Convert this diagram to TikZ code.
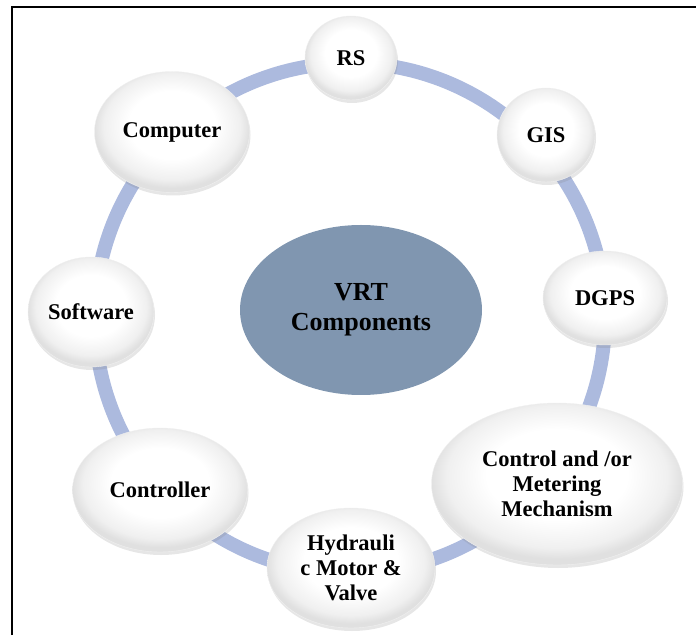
\documentclass[tikz,border=0pt]{standalone}
\usepackage{fontspec}
\setmainfont{Liberation Serif}
\usetikzlibrary{shapes}
\usetikzlibrary{shadows}

\definecolor{ringBlue}{RGB}{172,186,222}
\definecolor{hubBlue}{RGB}{128,150,176}

\pgfdeclareradialshading{partglow}{\pgfpoint{0bp}{4bp}}{%
  color(0bp)=(white); color(14bp)=(white); color(22bp)=(black!6);
  color(25bp)=(black!12); color(50bp)=(black!12)}

\tikzset{
  part/.style={ellipse, inner sep=0pt, align=center,
    font=\bfseries\fontsize{22.5}{25}\selectfont,
    shading=partglow, draw=black!6, line width=0.4pt,
    drop shadow={shadow xshift=1pt, shadow yshift=-3pt, opacity=0.2}},
  hub/.style={ellipse, inner sep=0pt, align=center, fill=hubBlue,
    font=\bfseries\fontsize{26}{30}\selectfont},
  ring/.style={draw=ringBlue, line width=14pt}
}

\begin{document}
\begin{tikzpicture}[x=1pt,y=1pt]
 			\useasboundingbox (0,0) rectangle (696,635);
 			% Frame
 			\draw[line width=2pt] (12,0) -- (12,628) -- (696,628);
 			%% Ring behind the parts
 			\coordinate (ringCentre) at (350,317);
 			\draw[ring] (ringCentre) circle (255pt);
 			\path (361,325) node(nodeVRT) [hub, minimum width=242pt, minimum height=170pt]
 				{VRT\\Components};
 			% Parts round the ring
 			\path (351,577) node(nodeRS)       [part, minimum width=92pt, minimum height=84pt] {RS};
 			\path (546,500) node(nodeGIS)      [part, minimum width=98pt, minimum height=94pt] {GIS};
 			\path (605,337) node(nodeDGPS)     [part, minimum width=124pt, minimum height=94pt] {DGPS};
 			\path (557,151) node(nodeControl)  [part, minimum width=251pt, minimum height=162pt]
 				{Control and /or\\Metering\\Mechanism};
 			\path (351,67) node(nodeHydraulic) [part, minimum width=168pt, minimum height=120pt]
 				{Hydrauli\\c Motor \&\\Valve};
 			\path (160,145) node(nodeController) [part, minimum width=175pt, minimum height=124pt] {Controller};
 			\path (91,323) node(nodeSoftware)  [part, minimum width=126pt, minimum height=110pt] {Software};
 			\path (172,503) node(nodeComputer) [part, minimum width=155pt, minimum height=121pt] {Computer};
 		\end{tikzpicture}
\end{document}
